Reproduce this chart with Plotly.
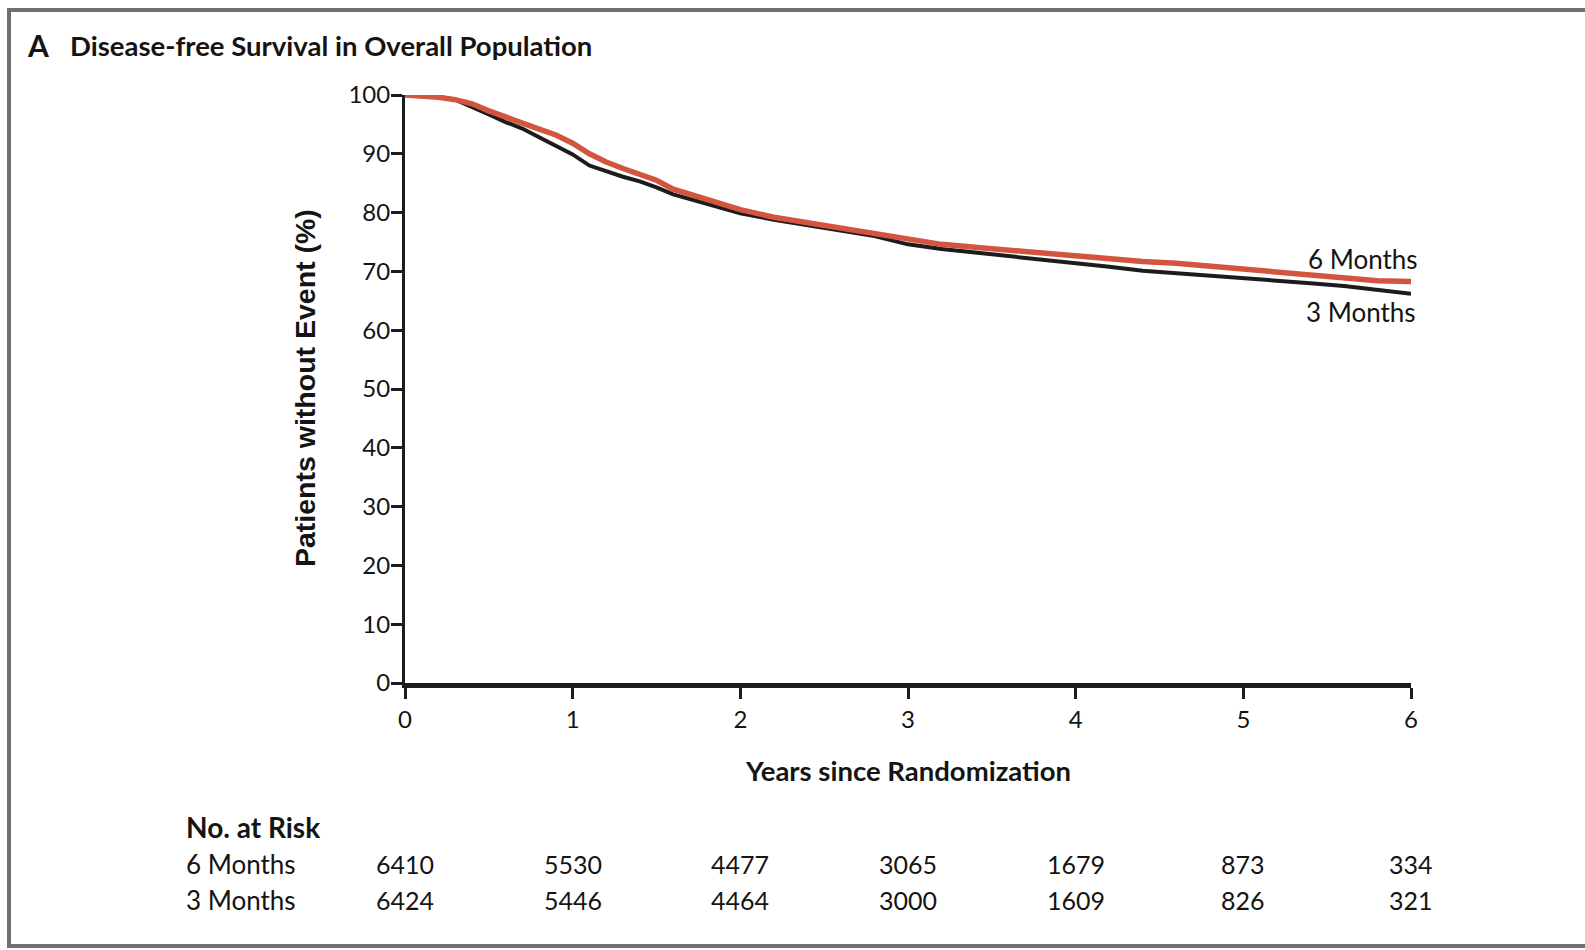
import plotly.graph_objects as go

# ---- data ----
years = [0.0, 0.1, 0.2, 0.3, 0.4, 0.5, 0.6, 0.7, 0.8, 0.9, 1.0, 1.1, 1.2, 1.3, 1.4, 1.5,
         1.6, 1.7, 1.8, 1.9, 2.0, 2.2, 2.4, 2.6, 2.8, 3.0, 3.2, 3.4, 3.6, 3.8, 4.0, 4.2,
         4.4, 4.6, 4.8, 5.0, 5.2, 5.4, 5.6, 5.8, 6.0]
six_months = [100, 99.9, 99.6, 99.2, 98.5, 97.3, 96.2, 95.2, 94.2, 93.2, 91.8, 90.0, 88.6,
              87.5, 86.6, 85.5, 84.0, 83.1, 82.3, 81.5, 80.5, 79.2, 78.3, 77.3, 76.4, 75.4,
              74.6, 74.1, 73.6, 73.2, 72.7, 72.2, 71.7, 71.4, 70.9, 70.4, 69.9, 69.4, 68.9,
              68.4, 68.3]
three_months = [100, 99.9, 99.7, 99.2, 98.0, 96.7, 95.4, 94.3, 92.8, 91.4, 89.9, 88.0, 87.0,
                86.1, 85.3, 84.3, 83.1, 82.3, 81.5, 80.6, 79.9, 78.8, 77.9, 77.0, 76.0, 74.6,
                73.8, 73.2, 72.6, 72.1, 71.4, 70.8, 70.1, 69.7, 69.2, 68.9, 68.5, 68.0, 67.5,
                66.9, 66.2]

risk_years = [0, 1, 2, 3, 4, 5, 6]
risk_six = [6410, 5530, 4477, 3065, 1679, 873, 334]
risk_three = [6424, 5446, 4464, 3000, 1609, 826, 321]

x_ticks = [0, 1, 2, 3, 4, 5, 6]
y_ticks = [0, 10, 20, 30, 40, 50, 60, 70, 80, 90, 100]

# ---- layout geometry (pixels) ----
W, H = 1585, 950
L, R, T, B = 405, 174, 95, 267
PW = W - L - R
PH = H - T - B


def px(xp):
    return (xp - L) / PW


def py(yp):
    return (H - B - yp) / PH


HUM = "Lato, Open Sans, sans-serif"
RED = "#d3543f"
BLACK = "#1c1c1c"
TXT = "#141414"

fig = go.Figure()
fig.add_trace(go.Scatter(x=years, y=three_months, mode="lines", name="3 Months",
                         line=dict(color=BLACK, width=4), showlegend=False))
fig.add_trace(go.Scatter(x=years, y=six_months, mode="lines", name="6 Months",
                         line=dict(color=RED, width=5.5), showlegend=False))

ann = []
# title
ann.append(dict(text="<b>A</b>", x=px(25), y=py(45), xref="paper", yref="paper",
                xanchor="left", yanchor="middle", showarrow=False,
                font=dict(family=HUM, size=30, color=TXT)))
ann.append(dict(text="<b>Disease-free Survival in Overall Population</b>", x=px(68), y=py(45),
                xref="paper", yref="paper", xanchor="left", yanchor="middle", showarrow=False,
                font=dict(family=HUM, size=27.5, color=TXT)))
# y axis title
ann.append(dict(text="<b>Patients without Event (%)</b>", x=px(305), y=py(388), xref="paper",
                yref="paper", textangle=-90, xanchor="center", yanchor="middle",
                showarrow=False, font=dict(family="Liberation Sans, Arial", size=28.5, color=TXT)))
# x axis title
ann.append(dict(text="<b>Years since Randomization</b>", x=3, y=py(770), xref="x", yref="paper",
                xanchor="center", yanchor="middle", showarrow=False,
                font=dict(family=HUM, size=27.5, color=TXT)))
# curve labels
ann.append(dict(text="6 Months", x=px(1420), y=py(259), xref="paper", yref="paper",
                xanchor="right", yanchor="middle", showarrow=False,
                font=dict(family=HUM, size=26, color=TXT)))
ann.append(dict(text="3 Months", x=px(1418), y=py(312), xref="paper", yref="paper",
                xanchor="right", yanchor="middle", showarrow=False,
                font=dict(family=HUM, size=26, color=TXT)))
# no. at risk table
ann.append(dict(text="<b>No. at Risk</b>", x=px(184), y=py(827), xref="paper", yref="paper",
                xanchor="left", yanchor="middle", showarrow=False,
                font=dict(family=HUM, size=28, color=TXT)))
ann.append(dict(text="6 Months", x=px(184), y=py(864), xref="paper", yref="paper",
                xanchor="left", yanchor="middle", showarrow=False,
                font=dict(family=HUM, size=26, color=TXT)))
ann.append(dict(text="3 Months", x=px(184), y=py(900), xref="paper", yref="paper",
                xanchor="left", yanchor="middle", showarrow=False,
                font=dict(family=HUM, size=26, color=TXT)))
for xv, a, b in zip(risk_years, risk_six, risk_three):
    ann.append(dict(text=str(a), x=xv, y=py(864), xref="x", yref="paper",
                    xanchor="center", yanchor="middle", showarrow=False,
                    font=dict(family=HUM, size=25, color=TXT)))
    ann.append(dict(text=str(b), x=xv, y=py(900), xref="x", yref="paper",
                    xanchor="center", yanchor="middle", showarrow=False,
                    font=dict(family=HUM, size=25, color=TXT)))

shapes = [dict(type="rect", xref="paper", yref="paper", x0=px(9), x1=px(1600),
               y0=py(946), y1=py(10), line=dict(color="#6f6f6f", width=4),
               fillcolor="rgba(0,0,0,0)", layer="below")]

fig.update_layout(
    width=W, height=H,
    margin=dict(l=L, r=R, t=T, b=B, pad=0),
    paper_bgcolor="white", plot_bgcolor="white",
    annotations=ann, shapes=shapes,
    xaxis=dict(range=[0, 6], tickvals=x_ticks, ticktext=[str(v) for v in x_ticks],
               showgrid=False, zeroline=False, showline=True, linecolor=BLACK, linewidth=5,
               ticks="outside", ticklen=11, tickwidth=3, tickcolor=BLACK,
               ticklabelstandoff=0,
               tickfont=dict(family=HUM, size=24, color=TXT)),
    yaxis=dict(range=[0, 100], tickvals=y_ticks, ticktext=[str(v) for v in y_ticks],
               showgrid=False, zeroline=False, showline=True, linecolor=BLACK, linewidth=3,
               ticks="outside", ticklen=11, tickwidth=3, tickcolor=BLACK,
               ticklabelstandoff=-4,
               tickfont=dict(family=HUM, size=24, color=TXT)),
)

fig.write_html("out.html")
